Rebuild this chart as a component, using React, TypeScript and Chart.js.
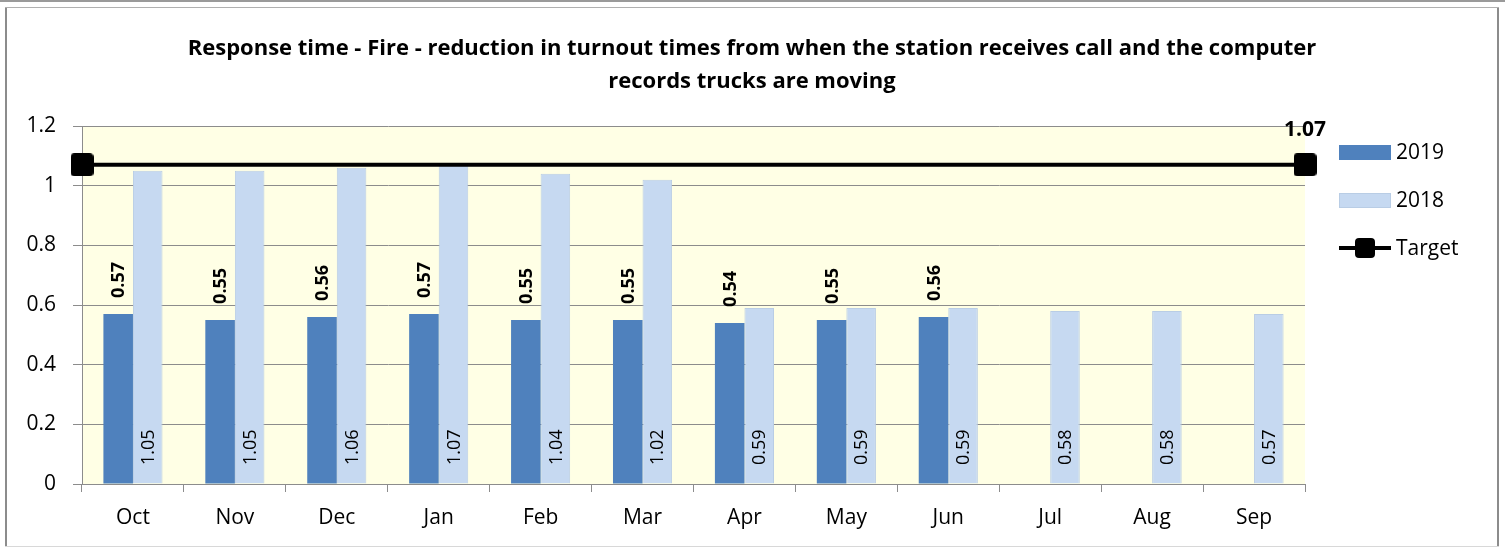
import React, { useEffect, useRef } from "react";
import { Chart, registerables } from "chart.js";

Chart.register(...registerables);

const months = ["Oct", "Nov", "Dec", "Jan", "Feb", "Mar", "Apr", "May", "Jun", "Jul", "Aug", "Sep"];
const values2019: (number | null)[] = [0.57, 0.55, 0.56, 0.57, 0.55, 0.55, 0.54, 0.55, 0.56, null, null, null];
const values2018: number[] = [1.05, 1.05, 1.06, 1.07, 1.04, 1.02, 0.59, 0.59, 0.59, 0.58, 0.58, 0.57];
const targetValue = 1.07;
const yTicks = [0, 0.2, 0.4, 0.6, 0.8, 1, 1.2];
const titleLines = [
  "Response time - Fire - reduction in turnout times from when the station receives call and the computer",
  "records trucks are moving",
];

const FONT = "'Open Sans', sans-serif";
const C2019 = "#4F81BD";
const C2018 = "#C6D9F1";
const C2018_BORDER = "#B9CDE5";
const PLOT_BG = "#FFFFE5";
const GRID = "#8C8C8C";

function makeMarker(size: number): HTMLCanvasElement {
  const c = document.createElement("canvas");
  c.width = size;
  c.height = size;
  const g = c.getContext("2d")!;
  g.fillStyle = "#000";
  g.beginPath();
  (g as any).roundRect(0, 0, size, size, 4);
  g.fill();
  return c;
}

export default function App() {
  const ref = useRef<HTMLCanvasElement | null>(null);

  useEffect(() => {
    document.body.style.margin = "0";
    const canvas = ref.current!;
    const marker = makeMarker(23);
    const legendMarker = makeMarker(20);

    // bars sit at the middle of each month slot on a hidden linear axis shared with the target line
    const bars2019 = values2019.map((v, i) => ({ x: i + 0.5, y: v }));
    const bars2018 = values2018.map((v, i) => ({ x: i + 0.5, y: v }));
    const targetLine = [
      { x: 0, y: targetValue },
      { x: months.length, y: targetValue },
    ];

    const framePlugin = {
      id: "frame",
      beforeDraw(chart: any) {
        const ctx = chart.ctx;
        const { left, top, right, bottom } = chart.chartArea;
        ctx.save();
        ctx.fillStyle = "#fff";
        ctx.fillRect(0, 0, chart.width, chart.height);
        ctx.fillStyle = "#9a9a9a";
        ctx.fillRect(0, 0, chart.width, 2);
        ctx.fillStyle = "#8c8c8c";
        ctx.fillRect(5, 7, 2, 540);
        ctx.fillRect(1497, 7, 2, 540);
        ctx.fillStyle = "#b0b0b0";
        ctx.fillRect(5, 7, 1494, 1);
        ctx.fillStyle = "#d8d8d8";
        ctx.fillRect(5, 546, 1494, 1);
        ctx.fillStyle = PLOT_BG;
        ctx.fillRect(left, top, right - left, bottom - top);
        ctx.fillStyle = "#000";
        ctx.font = `bold 22px ${FONT}`;
        ctx.textAlign = "center";
        ctx.textBaseline = "alphabetic";
        titleLines.forEach((t, i) => ctx.fillText(t, 752, 55 + i * 33));
        ctx.restore();
      },
    };

    const labelPlugin = {
      id: "labels",
      afterDatasetsDraw(chart: any) {
        const ctx = chart.ctx;
        ctx.save();
        ctx.fillStyle = "#000";
        ctx.textAlign = "left";
        ctx.textBaseline = "middle";
        const base = chart.scales.y.getPixelForValue(0);
        chart.getDatasetMeta(0).data.forEach((bar: any, i: number) => {
          const v = values2019[i];
          if (v == null) return;
          ctx.save();
          ctx.font = `bold 18px ${FONT}`;
          ctx.translate(bar.x + 1, bar.y - 16);
          ctx.rotate(-Math.PI / 2);
          ctx.fillText(v.toFixed(2), 0, 0);
          ctx.restore();
        });
        chart.getDatasetMeta(1).data.forEach((bar: any, i: number) => {
          const v = values2018[i];
          ctx.save();
          ctx.font = `18px ${FONT}`;
          ctx.translate(bar.x + 1, base - 19);
          ctx.rotate(-Math.PI / 2);
          ctx.fillText(v.toFixed(2), 0, 0);
          ctx.restore();
        });
        const pts = chart.getDatasetMeta(2).data;
        const last = pts[pts.length - 1];
        if (last) {
          ctx.font = `bold 21px ${FONT}`;
          ctx.textAlign = "center";
          ctx.textBaseline = "alphabetic";
          ctx.fillText(targetValue.toFixed(2), last.x, last.y - 29);
        }
        ctx.restore();
      },
      afterDraw(chart: any) {
        const ctx = chart.ctx;
        ctx.save();
        const bx = 1339;
        const bw = 52;
        ctx.font = `21px ${FONT}`;
        ctx.textAlign = "left";
        ctx.textBaseline = "middle";
        ctx.fillStyle = C2019;
        ctx.fillRect(bx, 145, bw, 15);
        ctx.fillStyle = "#000";
        ctx.fillText("2019", 1396, 153);
        ctx.fillStyle = C2018;
        ctx.fillRect(bx, 193, bw, 15);
        ctx.strokeStyle = C2018_BORDER;
        ctx.lineWidth = 1;
        ctx.strokeRect(bx + 0.5, 193.5, bw - 1, 14);
        ctx.fillStyle = "#000";
        ctx.fillText("2018", 1396, 201);
        ctx.fillRect(bx, 246, bw, 4);
        ctx.drawImage(legendMarker, bx + bw / 2 - 10, 238);
        ctx.fillText("Target", 1396, 249);
        ctx.restore();
      },
    };

    const chart = new Chart(canvas, {
      type: "bar",
      data: {
        labels: months,
        datasets: [
          {
            label: "2019",
            data: bars2019,
            xAxisID: "xl",
            backgroundColor: C2019,
            borderWidth: 0,
            barPercentage: 1.0,
            categoryPercentage: 0.58,
            order: 2,
          } as any,
          {
            label: "2018",
            data: bars2018,
            xAxisID: "xl",
            backgroundColor: C2018,
            borderColor: C2018_BORDER,
            borderWidth: 1,
            barPercentage: 1.0,
            categoryPercentage: 0.58,
            order: 2,
          } as any,
          {
            type: "line",
            label: "Target",
            data: targetLine,
            xAxisID: "xl",
            borderColor: "#000",
            borderWidth: 4,
            pointStyle: marker,
            pointRadius: 12,
            clip: false,
            order: 1,
          } as any,
        ],
      },
      options: {
        animation: false,
        responsive: false,
        layout: { padding: { top: 126, right: 200, left: 0, bottom: 0 } },
        plugins: {
          legend: { display: false },
          title: { display: false },
          tooltip: { enabled: false },
        },
        scales: {
          x: {
            type: "category",
            offset: true,
            grid: {
              display: true,
              offset: true,
              drawOnChartArea: false,
              drawTicks: true,
              tickLength: 8,
              color: GRID,
            },
            border: { display: true, color: GRID, width: 1 },
            ticks: {
              color: "#000",
              font: { family: FONT, size: 21 },
              padding: 13,
              maxRotation: 0,
            },
            afterFit(s: any) {
              s.height = 65;
            },
          },
          xl: {
            type: "linear",
            display: false,
            offset: false,
            min: 0,
            max: months.length,
            ticks: { stepSize: 1 },
            grid: { offset: false },
          },
          y: {
            min: 0,
            max: 1.2,
            afterBuildTicks(s: any) {
              s.ticks = yTicks.map((v) => ({ value: v }));
            },
            grid: {
              color: GRID,
              lineWidth: 1,
              drawTicks: true,
              tickLength: 9,
            },
            border: { display: true, color: GRID, width: 1 },
            ticks: {
              color: "#000",
              font: { family: FONT, size: 21 },
              padding: 17,
              callback: (v: any) => String(Math.round(Number(v) * 10) / 10),
            },
            afterFit(s: any) {
              s.width = 82;
            },
          },
        },
      } as any,
      plugins: [framePlugin, labelPlugin],
    });

    return () => chart.destroy();
  }, []);

  return (
    <div style={{ width: 1505, height: 549 }}>
      <canvas ref={ref} width={1505} height={549} style={{ display: "block" }} />
    </div>
  );
}
